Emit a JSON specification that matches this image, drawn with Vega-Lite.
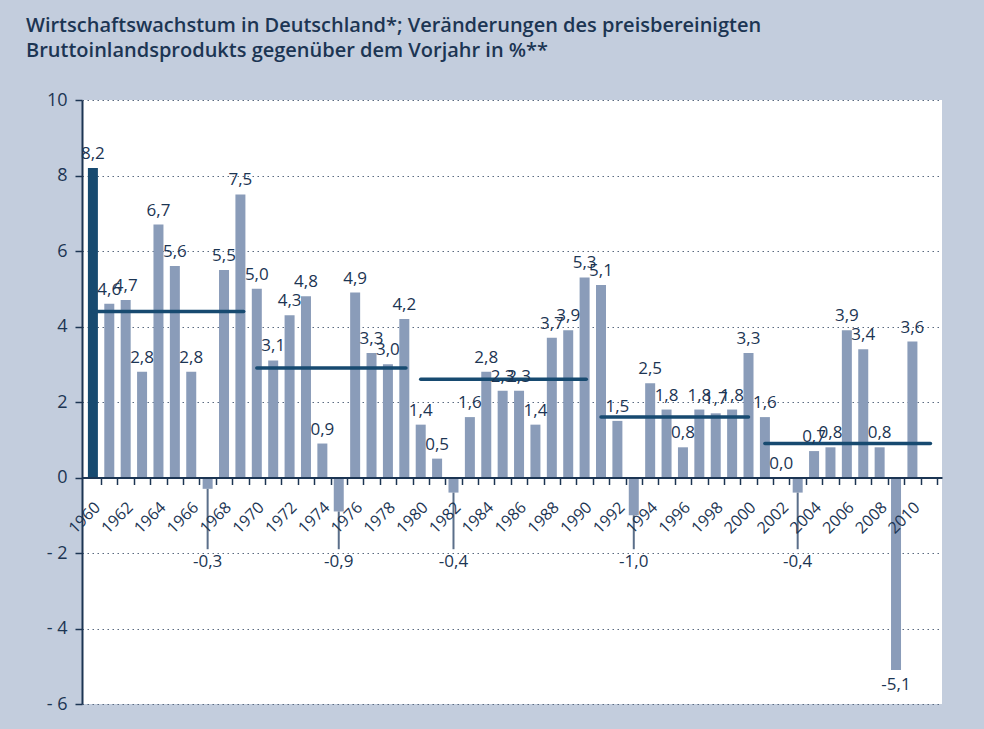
{
  "$schema": "https://vega.github.io/schema/vega-lite/v6.json",
  "width": 860,
  "height": 604,
  "autosize": {"type": "none"},
  "padding": {"left": 82, "top": 100, "right": 42, "bottom": 25},
  "background": "#c3cddd",
  "config": {
    "view": {"fill": "white", "stroke": null},
    "locale": {"number": {"decimal": ",", "thousands": ".", "grouping": [3], "currency": ["", " €"], "minus": "-"}},
    "font": "Open Sans",
    "axisX": {"labelOverlap": false}
  },
  "title": {
    "text": ["Wirtschaftswachstum in Deutschland*; Veränderungen des preisbereinigten", "Bruttoinlandsprodukts gegenüber dem Vorjahr in %**"],
    "anchor": "start",
    "frame": "group",
    "dx": -56,
    "offset": 30,
    "fontSize": 20,
    "lineHeight": 25,
    "font": "Open Sans",
    "fontWeight": 600,
    "color": "#1c3553"
  },
  "datasets": {
    "gdp": [
      {"year": 1960, "value": 8.2}, {"year": 1961, "value": 4.6}, {"year": 1962, "value": 4.7},
      {"year": 1963, "value": 2.8}, {"year": 1964, "value": 6.7}, {"year": 1965, "value": 5.6},
      {"year": 1966, "value": 2.8}, {"year": 1967, "value": -0.3}, {"year": 1968, "value": 5.5},
      {"year": 1969, "value": 7.5}, {"year": 1970, "value": 5.0}, {"year": 1971, "value": 3.1},
      {"year": 1972, "value": 4.3}, {"year": 1973, "value": 4.8}, {"year": 1974, "value": 0.9},
      {"year": 1975, "value": -0.9}, {"year": 1976, "value": 4.9}, {"year": 1977, "value": 3.3},
      {"year": 1978, "value": 3.0}, {"year": 1979, "value": 4.2}, {"year": 1980, "value": 1.4},
      {"year": 1981, "value": 0.5}, {"year": 1982, "value": -0.4}, {"year": 1983, "value": 1.6},
      {"year": 1984, "value": 2.8}, {"year": 1985, "value": 2.3}, {"year": 1986, "value": 2.3},
      {"year": 1987, "value": 1.4}, {"year": 1988, "value": 3.7}, {"year": 1989, "value": 3.9},
      {"year": 1990, "value": 5.3}, {"year": 1991, "value": 5.1}, {"year": 1992, "value": 1.5},
      {"year": 1993, "value": -1.0}, {"year": 1994, "value": 2.5}, {"year": 1995, "value": 1.8},
      {"year": 1996, "value": 0.8}, {"year": 1997, "value": 1.8}, {"year": 1998, "value": 1.7},
      {"year": 1999, "value": 1.8}, {"year": 2000, "value": 3.3}, {"year": 2001, "value": 1.6},
      {"year": 2002, "value": 0.0}, {"year": 2003, "value": -0.4}, {"year": 2004, "value": 0.7},
      {"year": 2005, "value": 0.8}, {"year": 2006, "value": 3.9}, {"year": 2007, "value": 3.4},
      {"year": 2008, "value": 0.8}, {"year": 2009, "value": -5.1}, {"year": 2010, "value": 3.6}
    ],
    "averages": [
      {"start": 1960, "end": 1969.2, "avg": 4.4},
      {"start": 1970, "end": 1979.1, "avg": 2.9},
      {"start": 1980, "end": 1990.1, "avg": 2.6},
      {"start": 1991, "end": 2000, "avg": 1.6},
      {"start": 2001, "end": 2011.1, "avg": 0.9}
    ]
  },
  "layer": [
    {
      "data": {"name": "gdp"},
      "mark": {"type": "bar", "width": 10},
      "encoding": {
        "x": {
          "field": "year", "type": "quantitative",
          "scale": {"domain": [1959.64, 2011.5], "nice": false, "zero": false},
          "axis": {
            "title": null,
            "orient": "bottom",
            "offset": -226.5,
            "zindex": 1,
            "grid": false,
            "tickCount": 200,
            "values": [1960.5, 1961.5, 1962.5, 1963.5, 1964.5, 1965.5, 1966.5, 1967.5, 1968.5, 1969.5, 1970.5, 1971.5, 1972.5, 1973.5, 1974.5, 1975.5, 1976.5, 1977.5, 1978.5, 1979.5, 1980.5, 1981.5, 1982.5, 1983.5, 1984.5, 1985.5, 1986.5, 1987.5, 1988.5, 1989.5, 1990.5, 1991.5, 1992.5, 1993.5, 1994.5, 1995.5, 1996.5, 1997.5, 1998.5, 1999.5, 2000.5, 2001.5, 2002.5, 2003.5, 2004.5, 2005.5, 2006.5, 2007.5, 2008.5, 2009.5, 2010.5, 2011.5],
            "labelExpr": "floor(datum.value) % 2 == 0 ? '' + floor(datum.value) : ''",
            "labelAngle": -45,
            "labelAlign": "right",
            "labelBaseline": "middle",
            "labelPadding": 20,
            "labelOffset": -4,
            "labelFontSize": 16,
            "labelColor": "#1c3553",
            "labelOverlap": false,
            "labelFlush": false,
            "labelBound": false,
            "domainColor": "#1c3553",
            "domainWidth": 2,
            "tickColor": "#1c3553",
            "tickSize": 7,
            "tickWidth": 1.5
          }
        },
        "y": {
          "field": "value", "type": "quantitative",
          "scale": {"domain": [-6, 10], "nice": false, "zero": false},
          "axis": {
            "title": null,
            "values": [-6, -4, -2, 0, 2, 4, 6, 8, 10],
            "tickCount": 50,
            "labelExpr": "datum.value < 0 ? '- ' + (-datum.value) : '' + datum.value",
            "labelFontSize": 18,
            "labelColor": "#1c3553",
            "labelPadding": 8,
            "domainColor": "#1c3553",
            "domainWidth": 2,
            "tickColor": "#1c3553",
            "tickSize": 7,
            "tickWidth": 1.5,
            "grid": true,
            "gridColor": "#5a6a80",
            "gridDash": [1.5, 3.5],
            "gridWidth": 1
          }
        },
        "y2": {"datum": 0},
        "color": {
          "condition": {"test": "datum.year == 1960", "value": "#174a70"},
          "value": "#8a9cb9"
        }
      }
    },
    {
      "data": {"name": "gdp"},
      "transform": [{"filter": "datum.value < 0 && datum.value > -3"}],
      "mark": {"type": "rule", "color": "#5b6f8a", "strokeWidth": 2},
      "encoding": {
        "x": {"field": "year", "type": "quantitative"},
        "y": {"field": "value", "type": "quantitative"},
        "y2": {"datum": -1.9}
      }
    },
    {
      "data": {"name": "averages"},
      "mark": {"type": "rule", "color": "#174a70", "strokeWidth": 3.5, "strokeCap": "round"},
      "encoding": {
        "x": {"field": "start", "type": "quantitative"},
        "x2": {"field": "end"},
        "y": {"field": "avg", "type": "quantitative"}
      }
    },
    {
      "data": {"name": "gdp"},
      "transform": [{"filter": "datum.value >= 0"}],
      "mark": {"type": "text", "baseline": "alphabetic", "dy": -9, "fontSize": 17, "color": "#1c3553"},
      "encoding": {
        "x": {"field": "year", "type": "quantitative"},
        "y": {"field": "value", "type": "quantitative"},
        "text": {"field": "value", "type": "quantitative", "format": ".1f"}
      }
    },
    {
      "data": {"name": "gdp"},
      "transform": [{"filter": "datum.value < 0 && datum.value > -3"}],
      "mark": {"type": "text", "baseline": "top", "dy": 5, "fontSize": 17, "color": "#1c3553"},
      "encoding": {
        "x": {"field": "year", "type": "quantitative"},
        "y": {"datum": -1.9},
        "text": {"field": "value", "type": "quantitative", "format": ".1f"}
      }
    },
    {
      "data": {"name": "gdp"},
      "transform": [{"filter": "datum.value <= -3"}],
      "mark": {"type": "text", "baseline": "top", "dy": 7, "fontSize": 17, "color": "#1c3553"},
      "encoding": {
        "x": {"field": "year", "type": "quantitative"},
        "y": {"field": "value", "type": "quantitative"},
        "text": {"field": "value", "type": "quantitative", "format": ".1f"}
      }
    }
  ]
}
